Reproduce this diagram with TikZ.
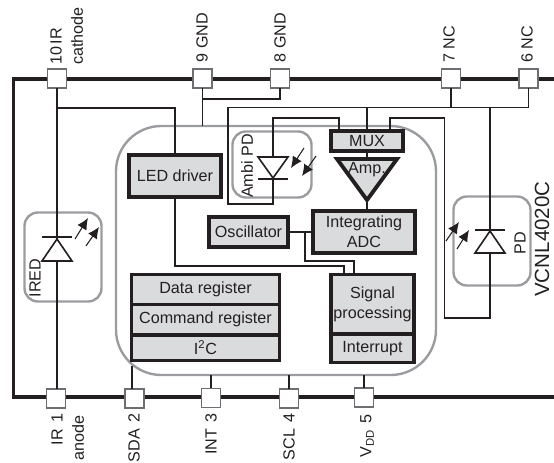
\documentclass[tikz,border=0pt]{standalone}
\usepackage{fontspec}
\setmainfont{Liberation Sans}
\usetikzlibrary{arrows.meta}
\definecolor{ink}{HTML}{231F20}
\definecolor{blockgray}{HTML}{DADBDC}
\definecolor{roundgray}{HTML}{9A9C9F}
\definecolor{pingray}{HTML}{6D6E71}

\begin{document}
\begin{tikzpicture}[x=0.75pt, y=-0.75pt, line join=miter,
		sized/.style 2 args={minimum width=#1*0.75pt, minimum height=#2*0.75pt},
		txt/.style={font=\fontsize{12.1}{14.9}\selectfont, text=ink, inner sep=0pt},
		wire/.style={draw=ink, line width=1.15pt},
		frame/.style={draw=ink, line width=2.8pt},
		pin/.style={draw=pingray, fill=white, line width=0.9pt, sized={19}{19}, inner sep=0pt, outer sep=0pt},
		block/.style={draw=ink, fill=blockgray, line width=2.9pt, inner sep=0pt, outer sep=0pt, align=center, txt},
		roundbox/.style={draw=roundgray, line width=1.8pt, inner sep=0pt, outer sep=0pt},
		diode/.style={draw=ink, fill=white, line width=1.2pt},
		light/.style={draw=ink, line width=0.8pt, -{Latex[length=8.5pt,width=8pt]}},
		toplabel/.style={txt, rotate=90, anchor=west},
		botlabel/.style={txt, rotate=90, anchor=east}]
	\useasboundingbox (0,0) rectangle (554,463);

	% Rounded groups
	\node[roundbox, sized={320}{249}, rounded corners=34pt] (coreBox) at (276,250.5) {};
	\node[roundbox, sized={79}{66}, rounded corners=10pt] (ambiBox) at (272,164.5) {};
	\node[roundbox, sized={77}{89}, rounded corners=10pt] (iredBox) at (63,257) {};
	\node[roundbox, sized={77}{89}, rounded corners=10pt] (pdBox) at (492,241) {};

	% Package outline
	\coordinate (frameTR) at (556,79);
	\coordinate (frameTL) at (13.5,79);
	\coordinate (frameBL) at (13.5,397);
	\coordinate (frameBR) at (556,397);
	\draw[frame] (frameTR) -- (frameTL) -- (frameBL) -- (frameBR);

	% Pins
	\node[pin] (pin10) at (57,78.5) {};
	\node[pin] (pin9) at (202.5,78.5) {};
	\node[pin] (pin8) at (280,78.5) {};
	\node[pin] (pin7) at (451,78.5) {};
	\node[pin] (pin6) at (528.5,78.5) {};
	\node[pin] (pin1) at (56,398.5) {};
	\node[pin] (pin2) at (134.5,398.5) {};
	\node[pin] (pin3) at (211,397.7) {};
	\node[pin] (pin4) at (289,398.5) {};
	\node[pin] (pin5) at (364,397.5) {};

	% Pin labels
	\node[toplabel] (labIr) at (56,65) {10\,IR};
	\node[toplabel] (labCathode) at (77,65) {cathode};
	\node[toplabel] (labNine) at (202,62.5) {9 GND};
	\node[toplabel] (labEight) at (280,62.5) {8 GND};
	\node[toplabel] (labSeven) at (449,63) {7 NC};
	\node[toplabel] (labSix) at (527,63) {6 NC};
	\node[botlabel] (labOne) at (57,413) {IR\hspace{5pt}1};
	\node[botlabel] (labAnode) at (78,415) {anode};
	\node[botlabel] (labTwo) at (134,413) {SDA\hspace{5pt}2};
	\node[botlabel] (labThree) at (211,413) {INT\hspace{5pt}3};
	\node[botlabel] (labFour) at (289,413) {SCL\hspace{5pt}4};
	\node[botlabel] (labFive) at (367,414) {V\textsubscript{DD}\hspace{5pt}5};
	\node[txt, rotate=90, anchor=west, font=\fontsize{15.4}{18}\selectfont] (labChip) at (542,297) {VCNL4020C};

	% Blocks
	\node[block, sized={91.5}{42}] (ledDriver) at (175,176) {LED driver};
	\node[block, sized={72}{20}] (mux) at (367,141) {MUX};
	\node[block, sized={102}{42}] (adc) at (364,232) {Integrating\\ADC};
	\node[block, sized={79}{30}] (osc) at (248.5,232) {Oscillator};
	\node[block, sized={148}{30}] (dataReg) at (205.5,289.5) {Data register};
	\node[block, sized={148}{30.5}] (cmdReg) at (205.5,319.75) {Command register};
	\node[block, sized={148}{25.5}] (iic) at (205.5,347.75) {I\textsuperscript{2}C};
	\node[block, sized={83}{59.5}] (sigProc) at (372.5,304.25) {Signal\\processing};
	\node[block, sized={83}{28.5}] (intr) at (372.5,348.25) {Interrupt};

	% Amp.
	\coordinate (ampLeft) at (337,159);
	\coordinate (ampRight) at (397,159);
	\coordinate (ampTop) at (367,159);
	\coordinate (ampTip) at (367,200);
	\draw[draw=ink, fill=blockgray, line width=2.9pt] (ampLeft) -- (ampRight) -- (ampTip) -- cycle;
	\node[txt] (ampText) at (367,170) {Amp.};

	% IR wire
	\coordinate (irBranch) at (57,108);
	\draw[wire] (pin10.south) -- (pin10.south |- pin1.north);
	\draw[wire] (irBranch) -| (ledDriver.north);

	% GND wires
	\coordinate (gndTap) at (202.5,99);
	\draw[wire] (pin9.south) -- (pin9.south |- coreBox.north);
	\draw[wire] (pin8.south) |- (gndTap);

	% NC rail
	\coordinate (railLeft) at (228,107.5);
	\coordinate (railLow) at (228,204);
	\coordinate (ambiLow) at (273,179);
	\draw[wire] (pin6.south) |- (railLeft) -- (railLow) -| (ambiLow);
	\draw[wire] (pin7.south) -- (pin7.south |- railLeft);
	\draw[wire] (mux.north) -- (mux.north |- railLeft);

	% Ambi PD to MUX
	\coordinate (muxLeft) at (339,130);
	\coordinate (ambiTop) at (273,118);
	\coordinate (ambiBase) at (273,157);
	\draw[wire] (muxLeft) |- (ambiTop) -- (ambiBase);

	% PD to MUX
	\coordinate (pdTop) at (490,107.5);
	\coordinate (pdLow) at (490,318);
	\coordinate (pdBack) at (444.5,318);
	\coordinate (pdHigh) at (444.5,118);
	\coordinate (muxRight) at (390,130);
	\draw[wire] (pdTop) -- (pdLow) -- (pdBack) -- (pdHigh) -| (muxRight);

	% Signal path
	\coordinate (oscTap) at (305,232);
	\coordinate (sigBendA) at (354,261);
	\coordinate (sigInA) at (354,273);
	\coordinate (sigBendB) at (344,266);
	\coordinate (sigInB) at (344,273);
	\draw[wire] (mux.south) -- (ampTop);
	\draw[wire] (ampTip) -- (adc.north -| ampTip);
	\draw[wire] (osc.east) -- (adc.west);
	\draw[wire] (oscTap) |- (sigBendA) -- (sigInA);
	\draw[wire] (ledDriver.south) |- (sigBendB) -- (sigInB);

	% Bottom pin wires
	\coordinate (sdaTop) at (132,366);
	\draw[wire] (sdaTop) -- (sdaTop |- pin2.north);
	\draw[wire] (pin3.north) -- (pin3.north |- coreBox.south);
	\draw[wire] (pin4.north) -- (pin4.north |- coreBox.south);
	\draw[wire] (pin5.north) -- (pin5.north |- coreBox.south);

	% Ambi PD diode
	\draw[diode] (273,178) -- (258,157) -- (288,157) -- cycle;
	\draw[diode] (258,179) -- (288,179);
	\draw[light] (304,148) -- (291,168);
	\draw[light] (316,156) -- (302,176);
	\node[txt, rotate=90] (labAmbi) at (247,166) {Ambi PD};

	% IRED diode
	\draw[diode] (57,239) -- (42,261) -- (72,261) -- cycle;
	\draw[diode] (42,237) -- (72,237);
	\draw[light] (75,239) -- (88,218);
	\draw[light] (86,246) -- (99,227);
	\node[txt, rotate=90] (labIred) at (35,278) {IRED};

	% PD diode
	\draw[diode] (490,231) -- (475,253) -- (505,253) -- cycle;
	\draw[diode] (475,230) -- (505,230);
	\draw[light] (446,241) -- (459,222);
	\draw[light] (457,249) -- (469,230);
	\node[txt, rotate=90] (labPd) at (520,243) {PD};
\end{tikzpicture}
\end{document}
